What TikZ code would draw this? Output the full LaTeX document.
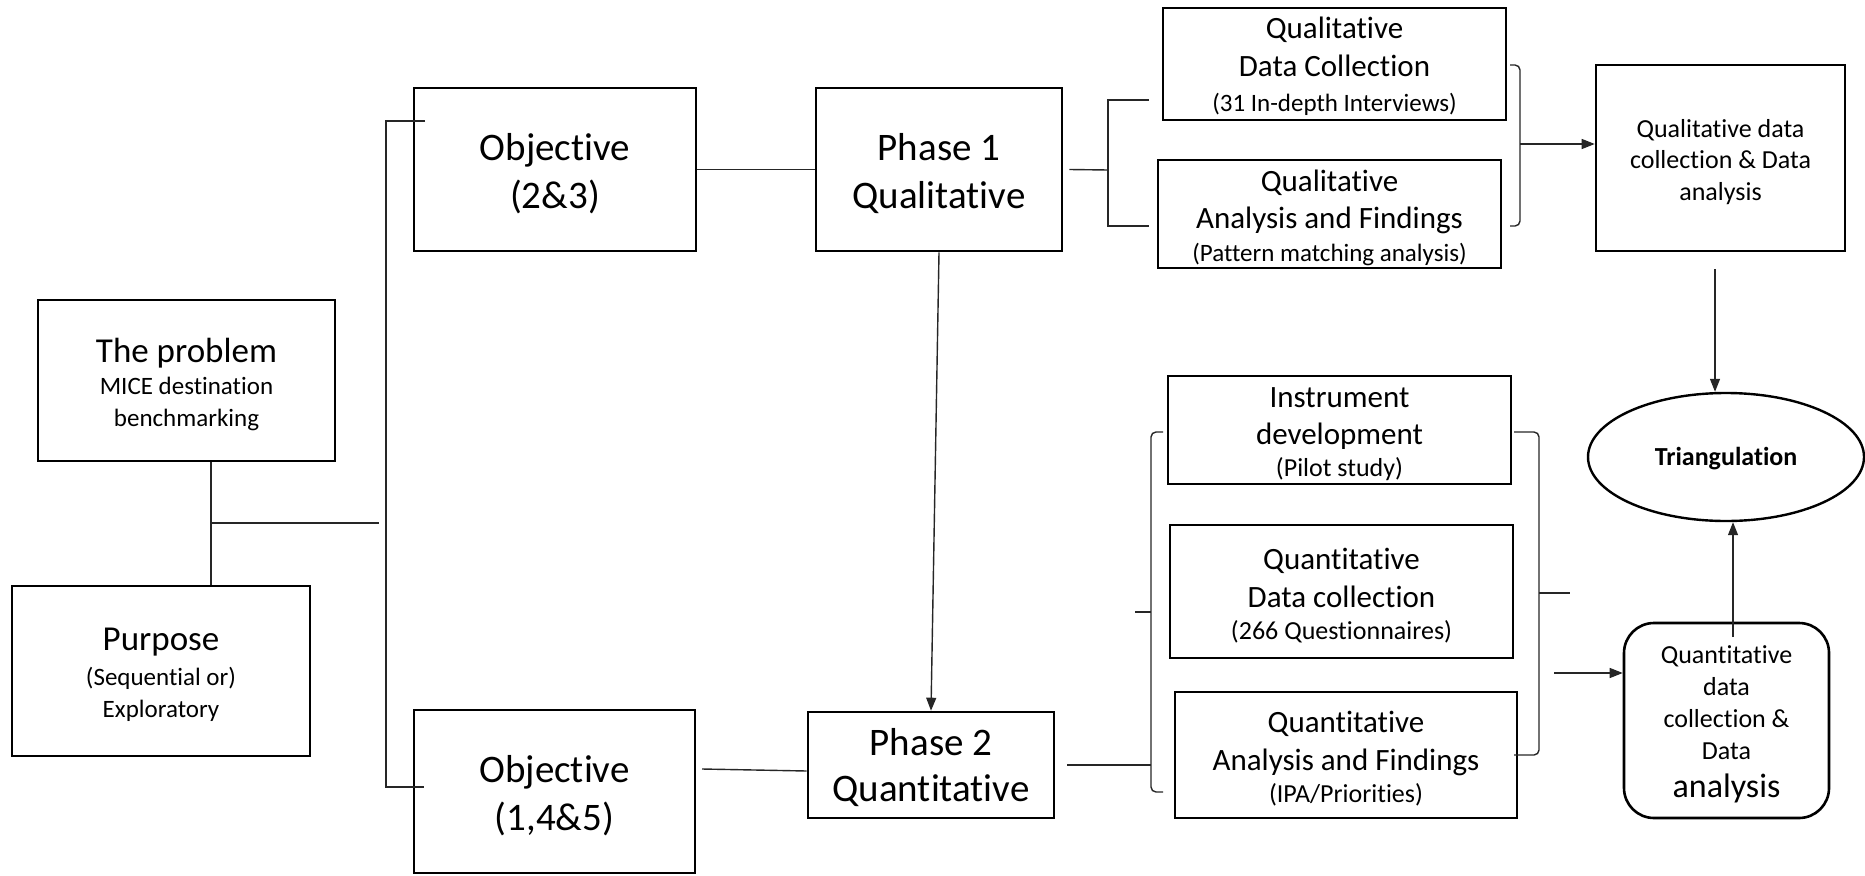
\documentclass[tikz,border=0pt]{standalone}
\usepackage{fontspec}
\setmainfont{Carlito}[Ligatures=NoCommon]
\usetikzlibrary{arrows.meta,shapes.geometric}
\newcommand{\fs}[2]{\fontsize{#1}{#2}\selectfont}

\begin{document}
\begin{tikzpicture}[x=1pt,y=-1pt,
  box/.style={draw, line width=2.6pt, inner sep=0pt},
  txt/.style={inner sep=0pt, align=center},
  conn/.style={line width=1.4pt, draw=black!85},
  tip/.style={-{Triangle[length=13pt,width=10pt]}},
]
\useasboundingbox (0,0) rectangle (1865,875);

% frames
\node[box, minimum width=297pt, minimum height=161pt] (prob) at (186.5,380.5) {};
\node[box, minimum width=298pt, minimum height=170pt] (purp) at (161,671) {};
\node[box, minimum width=282pt, minimum height=163pt] (obj1) at (555,169.5) {};
\node[box, minimum width=281pt, minimum height=163pt] (obj2) at (554.5,791.5) {};
\node[box, minimum width=246pt, minimum height=163pt] (ph1) at (939,169.5) {};
\node[box, minimum width=246pt, minimum height=106pt] (ph2) at (931,765) {};
\node[box, minimum width=343pt, minimum height=112pt] (qdc) at (1334.5,64) {};
\node[box, minimum width=343pt, minimum height=108pt] (qaf) at (1329.5,214) {};
\node[box, minimum width=249pt, minimum height=186pt] (qualdca) at (1720.5,158) {};
\node[box, minimum width=343pt, minimum height=108pt] (instr) at (1339.5,430) {};
\node[box, minimum width=343pt, minimum height=133pt] (qdc2) at (1341.5,591.5) {};
\node[box, minimum width=342pt, minimum height=126pt] (qaf2) at (1346,755) {};
\node[box, rounded corners=30pt, minimum width=205pt, minimum height=195pt] (qdca2) at (1726.5,720.5) {};
\node[draw, ellipse, line width=2.4pt, inner sep=0pt, minimum width=276pt, minimum height=128pt] (tri) at (1726,457) {};

% texts
\node[txt, font=\fs{25}{32}] (probt) at ([yshift=-4pt]prob.center)
  {\fs{35}{40}The problem\\ MICE destination\\benchmarking};
\node[txt, font=\fs{25}{32}] (purpt) at ([yshift=-4pt]purp.center)
  {\fs{35}{40}Purpose\\[3pt] (Sequential or)\\Exploratory};
\node[txt, font=\fs{39}{48}] (obj1t) at ([yshift=-4pt]obj1.center) {Objective\\(2\&3)};
\node[txt, font=\fs{39}{48}] (obj2t) at ([yshift=-4pt]obj2.center) {Objective\\(1,4\&5)};
\node[txt, font=\fs{39}{48}] (ph1t) at ([yshift=-4pt]ph1.center) {Phase 1\\Qualitative};
\node[txt, font=\fs{39}{46}] (ph2t) at ([yshift=-3pt]ph2.center) {Phase 2\\Quantitative};
\node[txt, font=\fs{31}{35}] (qdct) at ([yshift=-2pt]qdc.center)
  {Qualitative\\[3pt]Data Collection\\ \fs{25}{35}(31 In-depth Interviews)};
\node[txt, font=\fs{31}{33}] (qaft) at ([yshift=-4pt]qaf.center)
  {Qualitative\\[4pt]Analysis and Findings\\ \fs{25}{33}(Pattern matching analysis)};
\node[txt, font=\fs{26}{31.5}] (qualdcat) at ([yshift=-4pt]qualdca.center)
  {Qualitative data\\collection \& Data\\analysis};
\node[txt, font=\fs{31}{32}] (instrt) at ([yshift=-4pt]instr.center)
  {Instrument\\[5pt]development\\ \fs{26}{32}(Pilot study)};
\node[txt, font=\fs{31}{32}] (qdc2t) at ([yshift=-4pt]qdc2.center)
  {Quantitative\\[6pt]Data collection\\ \fs{26}{32}(266 Questionnaires)};
\node[txt, font=\fs{31}{32}] (qaf2t) at ([yshift=-4pt]qaf2.center)
  {Quantitative\\[6pt]Analysis and Findings\\ \fs{26}{32}(IPA/Priorities)};
\node[txt, font=\fs{26}{32}] (qdca2t) at ([yshift=-4pt]qdca2.center)
  {Quantitative\\data\\collection \&\\Data\\[6pt] \fs{34}{32}analysis};
\node[txt, font=\fs{26}{31}\bfseries] (trit) at ([yshift=-2pt]tri.center) {Triangulation};

% problem / purpose join
\coordinate (j) at (211,523);
\coordinate (jr) at (379,523);
\draw[conn] (prob.south -| j) -- (purp.north -| j);
\draw[conn] (j) -- (jr);

% spine to the two objectives
\coordinate (s1t) at (425,121);
\coordinate (s1) at (386,121);
\coordinate (s2) at (386,787);
\coordinate (s2t) at (424,787);
\draw[conn] (s1t) -- (s1) -- (s2) -- (s2t);

\draw[conn] (obj1.east) -- (ph1.west);
\coordinate (o2a) at (702,769);
\draw[conn] (o2a) -- ([yshift=-6pt]ph2.west);
\draw[conn, tip] (ph1.south) -- (ph2.north);

% qualitative brackets
\coordinate (b1) at (1108,170);
\coordinate (t1) at (1149,100);
\coordinate (t2) at (1149,226);
\draw[conn] ([xshift=6pt]ph1.east) -- (b1);
\draw[conn] (t1) -- (t1 -| b1) -- (t2 -| b1) -- (t2);

\coordinate (r1) at (1510,65);
\coordinate (r2) at (1510,226);
\coordinate (rm) at (1520,144);
\draw[conn, rounded corners=5pt] (r1) -- (r1 -| rm) -- (r2 -| rm) -- (r2);
\draw[conn, tip] (rm) -- (rm -| qualdca.west);

\coordinate (a1) at (1715,269);
\draw[conn, tip] (a1) -- (a1 |- tri.north);

% quantitative brackets
\coordinate (lb) at (1151,612);
\coordinate (lt) at (1163,432);
\coordinate (lbo) at (1163,792);
\coordinate (lm) at (1135,612);
\draw[conn, rounded corners=5pt] (lt) -- (lt -| lb) -- (lbo -| lb) -- (lbo);
\draw[conn] (lb) -- (lm);
\draw[conn] ([xshift=12pt]ph2.east) -- (ph2.east -| lb);

\coordinate (rt) at (1514,432);
\coordinate (rbo) at (1514,755);
\coordinate (rb) at (1539,593);
\coordinate (rmid) at (1570,593);
\draw[conn, rounded corners=5pt] (rt) -- (rt -| rb) -- (rbo -| rb) -- (rbo);
\draw[conn] (rb) -- (rmid);

\coordinate (a2) at (1554,673);
\draw[conn, tip] (a2) -- (a2 -| qdca2.west);
\coordinate (a3) at (1733,637);
\draw[conn, tip] (a3) -- (a3 |- tri.south);
\end{tikzpicture}
\end{document}
